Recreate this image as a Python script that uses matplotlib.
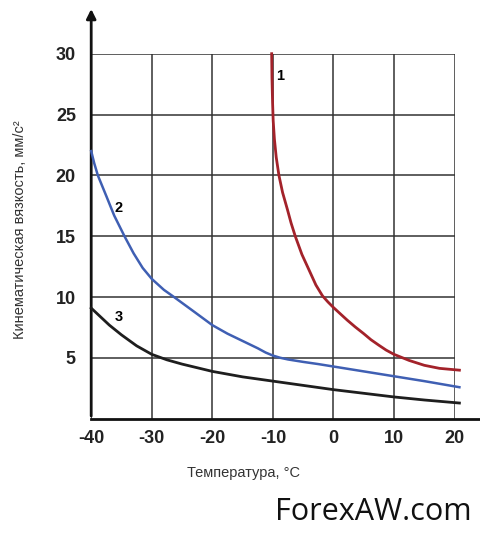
import matplotlib.pyplot as plt

plt.rcParams['font.family'] = ['Liberation Sans', 'DejaVu Sans']
plt.rcParams['axes.unicode_minus'] = False

# кривые вязкости
t1 = [-10.2, -10.15, -10.05, -9.95, -9.75, -9.45, -9.0, -8.4, -7.6, -7.0, -6.3, -5.2, -4.0, -2.9, -1.8,
      -0.9, 0.0, 1.2, 2.3, 3.6, 5.0, 6.2, 7.5, 8.7, 10.0, 12.5, 15.0, 17.5, 20.8]
v1 = [30.0, 28.0, 26.0, 24.5, 23.0, 21.5, 20.0, 18.6, 17.2, 16.1, 15.0, 13.5, 12.2, 11.0, 10.1,
      9.6, 9.15, 8.6, 8.1, 7.55, 7.0, 6.5, 6.05, 5.65, 5.3, 4.8, 4.4, 4.15, 4.0]

t2 = [-40.0, -39.5, -38.9, -37.5, -36.2, -34.5, -33.0, -31.5, -30.0, -28.0, -26.3, -23.0, -20.0, -17.5,
      -15.0, -12.5, -11.2, -10.0, -8.8, -7.5, -5.0, -2.5, 0.0, 5.0, 10.0, 15.0, 20.8]
v2 = [22.0, 21.0, 20.0, 18.3, 16.7, 15.0, 13.6, 12.4, 11.5, 10.6, 10.0, 8.8, 7.7, 7.0,
      6.4, 5.8, 5.45, 5.2, 5.02, 4.88, 4.68, 4.5, 4.3, 3.9, 3.5, 3.1, 2.6]

t3 = [-40.0, -38.5, -37.0, -35.0, -32.5, -30.0, -27.5, -25.0, -22.5, -20.0, -15.0, -10.0, -5.0, 0.0, 5.0,
      10.0, 15.0, 20.8]
v3 = [9.1, 8.4, 7.7, 6.9, 6.0, 5.3, 4.85, 4.5, 4.2, 3.9, 3.45, 3.1, 2.75, 2.4, 2.1,
      1.8, 1.55, 1.3]

x_ticks = [-40, -30, -20, -10, 0, 10, 20]
y_ticks = [5, 10, 15, 20, 25, 30]

fig = plt.figure(figsize=(4.8, 5.37), dpi=100)
ax = fig.add_axes([0.19, 0.22, 0.757, 0.68])

ax.set_xlim(-40, 20)
ax.set_ylim(0, 30)
ax.set_xticks(x_ticks)
ax.set_yticks(y_ticks)
ax.grid(True, color='#333333', linewidth=1.1)
ax.tick_params(length=0, labelsize=13, labelcolor='#222222')
ax.tick_params(axis='y', pad=11)
ax.tick_params(axis='x', pad=8)
for lbl in ax.get_xticklabels() + ax.get_yticklabels():
    lbl.set_fontweight('bold')

for s in ax.spines.values():
    s.set_visible(False)

# оси со стрелкой
ax.annotate('', xy=(0, 1.13), xytext=(0, 0), xycoords='axes fraction',
            arrowprops=dict(arrowstyle='-|>', color='#111111', lw=2, mutation_scale=14))
ax.plot([0, 1.066], [0, 0], transform=ax.transAxes, color='#111111', lw=2, clip_on=False)

ax.plot(t1, v1, color='#a3222a', lw=2, clip_on=False, zorder=3)
ax.plot(t2, v2, color='#3f5fb3', lw=1.8, clip_on=False, zorder=3)
ax.plot(t3, v3, color='#1e1e1e', lw=2, clip_on=False, zorder=3)

ax.text(-8.8, 28.2, '1', fontsize=10.5, fontweight='bold', ha='center', va='center')
ax.text(-35.5, 17.3, '2', fontsize=10.5, fontweight='bold', ha='center', va='center')
ax.text(-35.5, 8.4, '3', fontsize=10.5, fontweight='bold', ha='center', va='center')

fig.text(0.042, 0.572, 'Кинематическая вязкость, мм/с²', rotation=90,
         fontsize=10.5, color='#333333', ha='center', va='center')
fig.text(0.508, 0.119, 'Температура, °C', fontsize=10.5, color='#333333',
         ha='center', va='center')
fig.text(0.778, 0.046, 'ForexAW.com', fontsize=22, family='Open Sans',
         ha='center', va='center', color='#111111')

fig.savefig('out.png', dpi=100)
